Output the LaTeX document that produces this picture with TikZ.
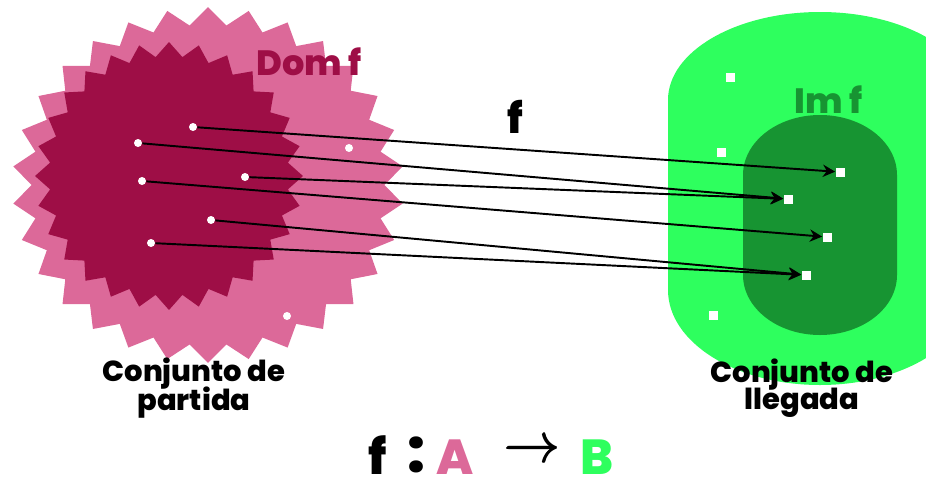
\documentclass[tikz,border=0pt]{standalone}
\usepackage{fix-cm}
\usepackage{amsmath}
\usepackage{fontspec}
\setmainfont{Poppins}
\IfFontExistsTF{Poppins ExtraBold}
  {\newfontfamily\heavy{Poppins ExtraBold}}
  {\newfontfamily\heavy{Poppins}[UprightFont=*-Bold]}
\usetikzlibrary{arrows.meta,positioning,shapes.geometric}
\definecolor{domout}{HTML}{DC6999}
\definecolor{domin}{HTML}{9E0E46}
\definecolor{codout}{HTML}{2EFF5E}
\definecolor{codin}{HTML}{179432}
\newcommand{\bigfont}[1]{\heavy\fontsize{#1}{#1}\selectfont}
\tikzset{
  dot/.style={circle,fill=white,inner sep=0pt,minimum size=0.16cm},
  sq/.style={rectangle,fill=white,inner sep=0pt,minimum size=0.18cm},
  ar/.style={-{Stealth[length=7pt,width=7pt]},line width=1.1pt},
  lbl/.style={font=\bigfont{16.5},align=center,inner sep=0pt},
  starset/.style={star,inner sep=0pt,draw=none},
  fml/.style={font=\bigfont{28},anchor=base,inner sep=0pt},
}

\begin{document}
\begin{tikzpicture}[x=0.02cm,y=-0.02cm]
\useasboundingbox (0,0) rectangle (926,487);
% conjunto de partida
\node[starset,fill=domout,star points=30,star point ratio=1.11,minimum size=7.12cm,xscale=1.1,transform shape] (domA) at (208,185) {};
\node[starset,fill=domin,star points=28,star point ratio=1.12,minimum size=5.36cm] (domf) at (169,176) {};
% conjunto de llegada
\begin{scope}
\clip (0,0) rectangle (926,487);
\fill[codout] (668,100) arc[start angle=180,end angle=360,x radius=152,y radius=88]
  -- (972,290) arc[start angle=0,end angle=180,x radius=152,y radius=95] -- cycle;
\end{scope}
\fill[codin] (743,175) arc[start angle=180,end angle=360,x radius=77,y radius=60]
  -- (897,275) arc[start angle=0,end angle=180,x radius=77,y radius=60] -- cycle;
% etiquetas
\node[font=\bigfont{20},text=domin] (ldom) at (309,62) {Dom f};
\node[font=\bigfont{20},text=codin] (lim) at (829,100) {Im f};
\node[font=\bigfont{24}] (lf) at (515,117) {f};
\node[lbl] (lpart) at (194,388) {Conjunto de\\[-2pt]partida};
\node[lbl] (lleg) at (802,388) {Conjunto de\\[-2pt]llegada};
% f : A -> B
\node[fml] (ff) at (378,474) {f};
\node[fml,font=\bigfont{34}] (fcol) at (417,472) {:};
\node[fml,text=domout] (fA) at (455,474) {A};
\node[font=\fontsize{32}{32}\selectfont,inner sep=0pt] (farr) at (533,452) {\pmb{$\rightarrow$}};
\node[fml,text=codout] (fB) at (597,474) {B};
% elementos de A
\node[dot] (a1) at (193,127) {};
\node[dot] (a2) at (138,143) {};
\node[dot] (a3) at (245,177) {};
\node[dot] (a4) at (142,181) {};
\node[dot] (a5) at (211,220) {};
\node[dot] (a6) at (151,243) {};
\node[dot] (a7) at (349,148) {};
\node[dot] (a8) at (287,316) {};
% elementos de B
\node[sq] (b1) at (840,172) {};
\node[sq] (b2) at (788,199) {};
\node[sq] (b3) at (827,237) {};
\node[sq] (b4) at (806,275) {};
\node[sq] (b5) at (730,77) {};
\node[sq] (b6) at (721,152) {};
\node[sq] (b7) at (713,315) {};
% f
\draw[ar] (a1) -- (b1);
\draw[ar] (a2) -- (b2);
\draw[ar] (a3) -- (b2);
\draw[ar] (a4) -- (b3);
\draw[ar] (a5) -- (b4);
\draw[ar] (a6) -- (b4);
\end{tikzpicture}
\end{document}
